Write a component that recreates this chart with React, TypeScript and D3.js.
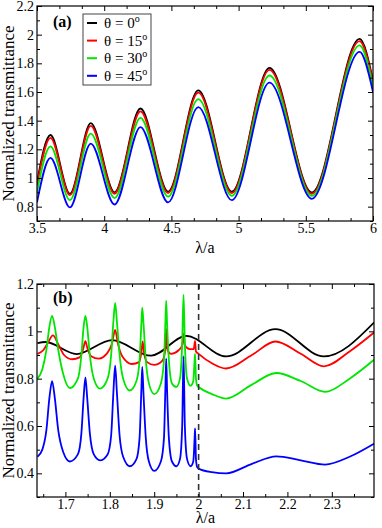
import React, { useRef, useEffect } from "react";
import * as d3 from "d3";

const FONT = "Liberation Serif, DejaVu Serif, Times New Roman, serif";
const COLORS = ["#000000", "#ff0000", "#00e600", "#0000ff"];
const ANGLES = ["0", "15", "30", "45"];

// ---- panel (a) ----
const aTicksX = [3.5, 4, 4.5, 5, 5.5, 6];
const aTicksY = [0.8, 1, 1.2, 1.4, 1.6, 1.8, 2, 2.2];
const aLambda = [3.5, 3.6, 3.745, 3.9, 4.077, 4.27, 4.475, 4.7, 4.95, 5.23, 5.545, 5.9, 6.0];
const aT0 = [0.97, 1.3, 0.89, 1.383, 0.9, 1.485, 0.905, 1.612, 0.905, 1.768, 0.9, 1.97, 1.68];
const aT15 = [0.95, 1.28, 0.88, 1.363, 0.89, 1.465, 0.895, 1.595, 0.895, 1.755, 0.89, 1.955, 1.67];
const aT30 = [0.9, 1.22, 0.845, 1.31, 0.86, 1.42, 0.87, 1.55, 0.875, 1.715, 0.875, 1.925, 1.64];
const aT45 = [0.83, 1.14, 0.795, 1.24, 0.815, 1.355, 0.83, 1.495, 0.845, 1.665, 0.855, 1.88, 1.6];

// ---- panel (b) ----
const bTicksX = [1.7, 1.8, 1.9, 2, 2.1, 2.2, 2.3];
const bTicksY = [0.4, 0.6, 0.8, 1, 1.2];
const bLambda0 = [1.637, 1.655, 1.725, 1.805, 1.893, 1.972, 2.062, 2.173, 2.282, 2.395];
const bT0 = [0.95, 0.955, 0.904, 0.963, 0.897, 0.981, 0.894, 1.009, 0.894, 1.037];
const bLambda15 = [1.637, 1.65, 1.66, 1.672, 1.684, 1.697, 1.715, 1.732, 1.74, 1.745, 1.75, 1.758, 1.775, 1.795, 1.805, 1.812, 1.818, 1.828, 1.85, 1.866, 1.871, 1.874, 1.877, 1.884, 1.9, 1.918, 1.924, 1.927, 1.93, 1.938, 1.955, 1.963, 1.966, 1.969, 1.98, 1.989, 1.992, 1.994, 2.0, 2.03, 2.062, 2.12, 2.173, 2.23, 2.282, 2.34, 2.395];
const bT15 = [0.905, 0.92, 0.95, 0.983, 0.945, 0.9, 0.882, 0.89, 0.925, 0.958, 0.925, 0.895, 0.885, 0.91, 0.95, 1.006, 0.95, 0.895, 0.862, 0.87, 0.91, 0.957, 0.91, 0.87, 0.858, 0.875, 0.91, 1.01, 0.92, 0.905, 0.92, 0.94, 0.99, 0.94, 0.925, 0.925, 0.96, 0.915, 0.905, 0.865, 0.843, 0.9, 0.957, 0.905, 0.852, 0.915, 0.995];
const bLambdaR = [1.637, 1.648, 1.657, 1.664, 1.67, 1.676, 1.684, 1.695, 1.71, 1.728, 1.736, 1.741, 1.745, 1.749, 1.755, 1.764, 1.778, 1.795, 1.803, 1.808, 1.812, 1.816, 1.822, 1.83, 1.845, 1.86, 1.867, 1.871, 1.873, 1.876, 1.881, 1.888, 1.9, 1.915, 1.922, 1.925, 1.927, 1.929, 1.933, 1.94, 1.95, 1.958, 1.963, 1.966, 1.969, 1.974, 1.982, 1.988, 1.991, 1.992, 1.994, 1.997, 2.0, 2.03, 2.062, 2.12, 2.175, 2.23, 2.285, 2.34, 2.395];
const bT30 = [0.8, 0.84, 0.92, 1.02, 1.065, 1.02, 0.92, 0.82, 0.76, 0.8, 0.9, 1.02, 1.065, 1.02, 0.9, 0.8, 0.758, 0.8, 0.9, 1.04, 1.12, 1.04, 0.9, 0.8, 0.75, 0.79, 0.88, 1.03, 1.1, 1.03, 0.88, 0.78, 0.735, 0.78, 0.88, 1.03, 1.13, 1.03, 0.88, 0.78, 0.765, 0.8, 0.95, 1.155, 0.95, 0.8, 0.77, 0.79, 0.88, 0.905, 0.8, 0.77, 0.765, 0.735, 0.716, 0.775, 0.824, 0.79, 0.744, 0.8, 0.88];
const bT45 = [0.47, 0.5, 0.58, 0.72, 0.79, 0.72, 0.58, 0.49, 0.45, 0.48, 0.57, 0.72, 0.805, 0.72, 0.57, 0.48, 0.455, 0.48, 0.56, 0.74, 0.855, 0.74, 0.56, 0.47, 0.43, 0.46, 0.55, 0.75, 0.85, 0.73, 0.55, 0.45, 0.41, 0.45, 0.55, 0.75, 0.885, 0.75, 0.55, 0.45, 0.43, 0.46, 0.6, 0.895, 0.6, 0.46, 0.43, 0.45, 0.55, 0.59, 0.46, 0.425, 0.42, 0.405, 0.4, 0.44, 0.472, 0.455, 0.437, 0.47, 0.525];

const fmt = (d) => String(+(+d).toFixed(1));

function drawPanel(svg, cfg) {
  const x = d3.scaleLinear().domain(cfg.xDomain).range([cfg.left, cfg.right]);
  const y = d3.scaleLinear().domain(cfg.yDomain).range([cfg.bottom, cfg.top]);
  const g = svg.append("g");

  const clipId = "clip-" + cfg.name;
  g.append("clipPath").attr("id", clipId)
    .append("rect")
    .attr("x", cfg.left).attr("y", cfg.top)
    .attr("width", cfg.right - cfg.left).attr("height", cfg.bottom - cfg.top);

  const line = d3.line()
    .x((d) => x(d[0]))
    .y((d) => y(d[1]))
    .curve(d3.curveMonotoneX);

  const curves = g.append("g").attr("clip-path", `url(#${clipId})`);
  cfg.series.forEach((s) => {
    curves.append("path")
      .attr("d", line(s.xs.map((v, i) => [v, s.ys[i]])))
      .attr("fill", "none")
      .attr("stroke", s.color)
      .attr("stroke-width", 1.8)
      .attr("stroke-linejoin", "round");
  });

  if (cfg.dashAt) {
    g.append("line")
      .attr("x1", x(cfg.dashAt)).attr("x2", x(cfg.dashAt))
      .attr("y1", cfg.top).attr("y2", cfg.bottom)
      .attr("stroke", "#333")
      .attr("stroke-width", 1.6)
      .attr("stroke-dasharray", "6,4");
  }

  const clean = (sel) => {
    sel.select(".domain").remove();
    sel.selectAll("line").attr("stroke", "#000");
    sel.selectAll("text").style("font-family", FONT).style("font-size", "14px").attr("fill", "#000");
  };
  const none = () => "";

  // bottom / top
  g.append("g").attr("transform", `translate(0,${cfg.bottom})`)
    .call(d3.axisBottom(x).tickValues(cfg.xTicks).tickSize(-5).tickPadding(2).tickFormat(fmt)).call(clean);
  g.append("g").attr("transform", `translate(0,${cfg.bottom})`)
    .call(d3.axisBottom(x).tickValues(cfg.xMinor).tickSize(-3).tickFormat(none)).call(clean);
  g.append("g").attr("transform", `translate(0,${cfg.top})`)
    .call(d3.axisTop(x).tickValues(cfg.xTicks).tickSize(-5).tickFormat(none)).call(clean);
  g.append("g").attr("transform", `translate(0,${cfg.top})`)
    .call(d3.axisTop(x).tickValues(cfg.xMinor).tickSize(-3).tickFormat(none)).call(clean);
  // left / right
  g.append("g").attr("transform", `translate(${cfg.left},0)`)
    .call(d3.axisLeft(y).tickValues(cfg.yTicks).tickSize(-5).tickPadding(3).tickFormat(fmt)).call(clean);
  g.append("g").attr("transform", `translate(${cfg.left},0)`)
    .call(d3.axisLeft(y).tickValues(cfg.yMinor).tickSize(-3).tickFormat(none)).call(clean);
  g.append("g").attr("transform", `translate(${cfg.right},0)`)
    .call(d3.axisRight(y).tickValues(cfg.yTicks).tickSize(-5).tickFormat(none)).call(clean);
  g.append("g").attr("transform", `translate(${cfg.right},0)`)
    .call(d3.axisRight(y).tickValues(cfg.yMinor).tickSize(-3).tickFormat(none)).call(clean);

  g.append("rect")
    .attr("x", cfg.left).attr("y", cfg.top)
    .attr("width", cfg.right - cfg.left).attr("height", cfg.bottom - cfg.top)
    .attr("fill", "none").attr("stroke", "#000").attr("stroke-width", 1.2);

  g.append("text")
    .attr("transform", `translate(14,${(cfg.top + cfg.bottom) / 2}) rotate(-90)`)
    .attr("text-anchor", "middle")
    .style("font-family", FONT).style("font-size", "17px")
    .text("Normalized transmittance");

  g.append("text")
    .attr("x", (cfg.left + cfg.right) / 2).attr("y", cfg.xTitleY)
    .attr("text-anchor", "middle")
    .style("font-family", FONT).style("font-size", "16px")
    .text("λ/a");

  g.append("text")
    .attr("x", cfg.left + 16).attr("y", cfg.top + cfg.tagDy)
    .style("font-family", FONT).style("font-size", "16px").style("font-weight", "bold")
    .text(cfg.tag);

  return { x, y, g };
}

const App = () => {
  const svgRef = useRef(null);

  useEffect(() => {
    const svg = d3.select(svgRef.current);
    svg.selectAll("*").remove();

    const minorBetween = (ticks, n) => {
      const out = [];
      for (let i = 0; i < ticks.length - 1; i++) {
        for (let k = 1; k <= n; k++) out.push(ticks[i] + ((ticks[i + 1] - ticks[i]) * k) / (n + 1));
      }
      return out;
    };

    const a = drawPanel(svg, {
      name: "a", tag: "(a)", tagDy: 21,
      left: 37, right: 373, top: 6, bottom: 221, xTitleY: 253,
      xDomain: [3.5, 6], yDomain: [0.7, 2.2],
      xTicks: aTicksX, xMinor: minorBetween(aTicksX, 2),
      yTicks: aTicksY, yMinor: [0.7, ...minorBetween(aTicksY, 1)],
      series: [aT0, aT15, aT30, aT45].map((ys, i) => ({ xs: aLambda, ys, color: COLORS[i] })),
    });

    drawPanel(svg, {
      name: "b", tag: "(b)", tagDy: 19,
      left: 37, right: 374, top: 284, bottom: 497, xTitleY: 523,
      xDomain: [1.636, 2.395], yDomain: [0.3, 1.2],
      xTicks: bTicksX, xMinor: minorBetween([1.6, ...bTicksX, 2.4], 1).filter((v) => v > 1.64 && v < 2.39),
      yTicks: bTicksY, yMinor: [0.3, ...minorBetween(bTicksY, 1)],
      dashAt: 2,
      series: [
        { xs: bLambda0, ys: bT0, color: COLORS[0] },
        { xs: bLambda15, ys: bT15, color: COLORS[1] },
        { xs: bLambdaR, ys: bT30, color: COLORS[2] },
        { xs: bLambdaR, ys: bT45, color: COLORS[3] },
      ],
    });

    // legend in panel (a)
    const lg = a.g.append("g");
    lg.append("rect")
      .attr("x", 83).attr("y", 14).attr("width", 68).attr("height", 71)
      .attr("fill", "#fff").attr("stroke", "#444").attr("stroke-width", 1);
    ANGLES.forEach((ang, i) => {
      const yy = 23 + i * 17.6;
      lg.append("line")
        .attr("x1", 87).attr("x2", 97).attr("y1", yy).attr("y2", yy)
        .attr("stroke", COLORS[i]).attr("stroke-width", 2);
      const t = lg.append("text")
        .attr("x", 104).attr("y", yy + 5)
        .style("font-family", FONT).style("font-size", "15px");
      t.append("tspan").text(`θ = ${ang}`);
      t.append("tspan").style("font-size", "10px").attr("dy", -6).text("o");
    });
  }, []);

  return (
    <svg ref={svgRef} width={382} height={528}
      style={{ position: "absolute", left: 0, top: 0, background: "#fff" }} />
  );
};

export default App;
